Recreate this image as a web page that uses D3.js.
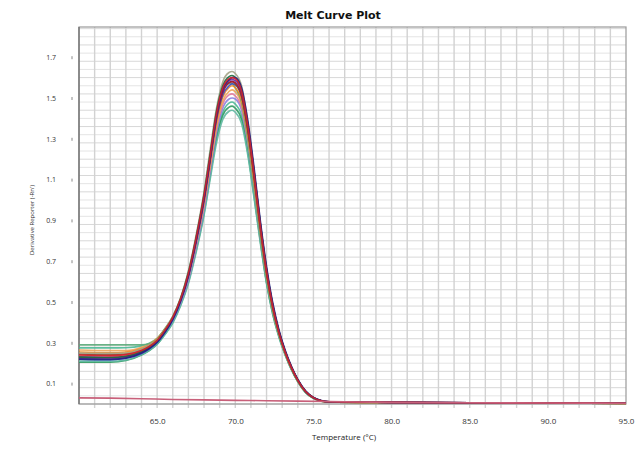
<!DOCTYPE html>
<html><head><meta charset="utf-8">
<script src="https://cdn.jsdelivr.net/npm/d3@7"></script>
<style>html,body{margin:0;padding:0;background:#fff;}svg{display:block;}</style>
</head><body>
<svg id="chart" width="637" height="449"></svg>
<script>
const title = "Melt Curve Plot";
const xTitle = "Temperature (°C)";
const yTitle = "Derivative Reporter (-Rn')";
const xTickValues = [65, 70, 75, 80, 85, 90, 95];
const yTickValues = [0.1, 0.3, 0.5, 0.7, 0.9, 1.1, 1.3, 1.5, 1.7];

const temps = [60,62,63,64,64.5,65,65.5,66,66.5,67,67.5,68,68.4,68.8,69.2,69.6,69.8,70.0,70.4,70.8,71.2,71.6,72.0,72.4,72.8,73.2,73.6,74.0,74.5,75,75.5,76,80,85,90,95];

const wellTeal = [.275,.275,.276,.285,.298,.322,.365,.42,.5,.61,.765,.95,1.135,1.315,1.43,1.475,1.48,1.47,1.415,1.255,1.04,.81,.60,.45,.335,.245,.17,.112,.058,.029,.014,.01,.007,.005,.004,.003];
const wellGreen = [.205,.205,.213,.24,.262,.293,.342,.4,.485,.598,.755,.935,1.12,1.3,1.415,1.455,1.46,1.45,1.395,1.235,1.02,.80,.595,.44,.33,.24,.168,.11,.057,.028,.014,.01,.007,.005,.004,.003];
const wellSeaGreen = [.21,.21,.216,.242,.263,.293,.34,.397,.48,.59,.745,.925,1.105,1.28,1.395,1.435,1.44,1.43,1.375,1.22,1.01,.79,.59,.44,.325,.238,.166,.109,.056,.028,.014,.01,.007,.005,.004,.003];
const wellLavender = [.232,.23,.236,.257,.276,.305,.352,.41,.495,.608,.77,.955,1.145,1.33,1.45,1.495,1.5,1.495,1.44,1.28,1.065,.82,.615,.455,.338,.246,.172,.113,.058,.029,.015,.01,.007,.005,.004,.003];
const wellPink = [.24,.237,.242,.262,.281,.31,.358,.416,.502,.617,.78,.97,1.16,1.35,1.47,1.515,1.52,1.51,1.455,1.29,1.07,.83,.62,.46,.34,.247,.173,.114,.059,.029,.015,.01,.007,.005,.004,.003];
const wellLightOrange = [.265,.262,.262,.278,.295,.322,.368,.425,.51,.625,.79,.98,1.17,1.36,1.485,1.532,1.54,1.53,1.47,1.305,1.08,.84,.625,.462,.34,.248,.173,.114,.059,.029,.015,.01,.007,.005,.004,.003];
const wellUpperGreen = [.29,.29,.29,.29,.295,.32,.37,.43,.52,.65,.82,1.03,1.23,1.42,1.53,1.57,1.57,1.55,1.48,1.3,1.07,.82,.61,.45,.335,.243,.17,.11,.056,.028,.014,.01,.007,.005,.004,.003];
const wellOrange = [.255,.252,.255,.272,.29,.318,.366,.425,.512,.63,.795,.99,1.185,1.38,1.505,1.552,1.56,1.55,1.49,1.32,1.09,.85,.632,.465,.342,.248,.174,.114,.059,.029,.015,.01,.007,.005,.004,.003];
const wellBlue = [.22,.217,.224,.248,.27,.302,.352,.414,.504,.625,.795,.995,1.195,1.395,1.515,1.56,1.57,1.565,1.51,1.35,1.125,.875,.655,.48,.352,.255,.18,.118,.062,.031,.016,.011,.008,.006,.005,.004];
const wellBrown = [.245,.242,.246,.266,.285,.314,.363,.423,.512,.634,.805,1.005,1.205,1.405,1.53,1.575,1.58,1.57,1.51,1.34,1.11,.86,.64,.47,.345,.25,.175,.115,.06,.03,.015,.01,.007,.005,.004,.003];
const wellOlive = [.25,.248,.25,.27,.29,.315,.365,.43,.52,.65,.83,1.04,1.25,1.45,1.58,1.625,1.63,1.62,1.56,1.38,1.14,.88,.655,.48,.35,.253,.177,.117,.061,.031,.016,.011,.008,.006,.005,.004];
const wellDarkRed = [.23,.228,.233,.256,.277,.308,.358,.42,.51,.633,.805,1.005,1.205,1.405,1.53,1.575,1.58,1.575,1.515,1.35,1.12,.87,.648,.475,.348,.252,.177,.116,.061,.031,.016,.011,.008,.006,.005,.004];
const wellPurple = [.225,.222,.228,.252,.274,.305,.355,.418,.508,.632,.805,1.01,1.21,1.415,1.54,1.585,1.59,1.585,1.53,1.37,1.14,.885,.66,.485,.355,.257,.18,.118,.062,.031,.016,.011,.008,.006,.005,.004];
const wellDarkGreen = [.23,.228,.234,.257,.278,.31,.36,.424,.515,.642,.818,1.025,1.23,1.435,1.56,1.605,1.61,1.6,1.54,1.37,1.14,.885,.66,.484,.354,.256,.18,.118,.062,.031,.016,.011,.008,.006,.005,.004];
const wellNavy = [.22,.218,.225,.25,.272,.303,.352,.415,.505,.63,.805,1.01,1.21,1.415,1.545,1.59,1.6,1.6,1.55,1.39,1.16,.90,.675,.495,.362,.262,.184,.121,.064,.032,.017,.011,.008,.006,.005,.004];
const wellRed = [.24,.237,.242,.262,.282,.312,.362,.425,.515,.64,.815,1.02,1.22,1.425,1.55,1.595,1.6,1.595,1.535,1.365,1.13,.875,.652,.478,.35,.253,.178,.117,.061,.031,.016,.011,.008,.006,.005,.004];

const ntcTemps = [60,62,64,66,68,70,72,74,76,78,80,85,90,95];
const ntcValues = [.03,.029,.026,.022,.02,.018,.016,.014,.012,.01,.008,.006,.005,.004];

const series = [
  {v: wellTeal, c: "#4cb896"},
  {v: wellGreen, c: "#2f9a62"},
  {v: wellSeaGreen, c: "#5fb8a2"},
  {v: wellLavender, c: "#8c7ee0"},
  {v: wellPink, c: "#e2789a"},
  {v: wellLightOrange, c: "#eda45a"},
  {v: wellUpperGreen, c: "#5aa878"},
  {v: wellOrange, c: "#f08a22"},
  {v: wellBlue, c: "#3a48c8"},
  {v: wellBrown, c: "#8a4a22"},
  {v: wellOlive, c: "#a4a488"},
  {v: wellDarkRed, c: "#a31a36"},
  {v: wellPurple, c: "#6b2ca2"},
  {v: wellDarkGreen, c: "#1c6e40"},
  {v: wellNavy, c: "#22227e"},
  {v: wellRed, c: "#d4202c"}
];

const svg = d3.select("#chart");
const L = 79, R = 626, T = 27, B = 404;
const x = d3.scaleLinear().domain([60, 95]).range([L, R]);
const y = d3.scaleLinear().domain([0, 1.848]).range([B, T]);

// grid
const grid = svg.append("g");
grid.selectAll("line.h").data(d3.range(0, 1.85, 0.04)).join("line")
  .attr("x1", L).attr("x2", R).attr("y1", d => y(d)).attr("y2", d => y(d))
  .attr("stroke", (d, i) => i % 2 ? "#e4e4e4" : "#d8d8d8").attr("stroke-width", 1);
grid.selectAll("line.v").data(d3.range(61, 95, 1)).join("line")
  .attr("x1", d => x(d)).attr("x2", d => x(d)).attr("y1", T).attr("y2", B + 4)
  .attr("stroke", "#d2d2d2").attr("stroke-width", 1.4);

// frame
svg.append("rect").attr("x", L).attr("y", T).attr("width", R - L).attr("height", B - T)
  .attr("fill", "none").attr("stroke", "#9a9a9a").attr("stroke-width", 1.2);
svg.append("line").attr("x1", L).attr("x2", L).attr("y1", T).attr("y2", B)
  .attr("stroke", "#6e6e6e").attr("stroke-width", 1.3);

// curves
const line = d3.line().x((d, i) => x(temps[i])).y(d => y(d)).curve(d3.curveMonotoneX);
const cg = svg.append("g");
series.forEach(s => {
  cg.append("path").attr("d", line(s.v)).attr("fill", "none")
    .attr("stroke", s.c).attr("stroke-width", 1.6).attr("stroke-opacity", 0.9);
});
const ntcLine = d3.line().x((d, i) => x(ntcTemps[i])).y(d => y(d)).curve(d3.curveMonotoneX);
cg.append("path").attr("d", ntcLine(ntcValues)).attr("fill", "none")
  .attr("stroke", "#c8607a").attr("stroke-width", 1.6);

// axes
const xAxis = d3.axisBottom(x).tickValues(xTickValues).tickFormat(d3.format(".1f")).tickSize(0).tickPadding(14);
const gx = svg.append("g").attr("transform", `translate(0,${B})`).call(xAxis);
gx.select(".domain").remove();
gx.selectAll("text").attr("font-family", "Open Sans, Liberation Sans, sans-serif").attr("font-size", 8).attr("fill", "#333");

const yAxis = d3.axisLeft(y).tickValues(yTickValues).tickFormat(d3.format(".1f")).tickSize(2).tickPadding(14);
const gy = svg.append("g").attr("transform", `translate(${L - 7},0)`).call(yAxis);
gy.select(".domain").remove();
gy.selectAll("line").attr("stroke", "#888").attr("x1", 0).attr("x2", 0).attr("y1", -1.5).attr("y2", 1.5);
gy.selectAll("text").attr("font-family", "Open Sans, Liberation Sans, sans-serif").attr("font-size", 7).attr("fill", "#333");

// titles
svg.append("text").attr("x", 333).attr("y", 19).attr("text-anchor", "middle")
  .attr("font-family", "DejaVu Sans, Verdana, sans-serif").attr("font-weight", "bold")
  .attr("font-size", 11).attr("fill", "#111").text(title);
svg.append("text").attr("x", 344).attr("y", 440).attr("text-anchor", "middle")
  .attr("font-family", "Open Sans, Liberation Sans, sans-serif").attr("font-size", 8).attr("fill", "#222").text(xTitle);
svg.append("text").attr("transform", "translate(34,220) rotate(-90)").attr("text-anchor", "middle")
  .attr("font-family", "Open Sans, Liberation Sans, sans-serif").attr("font-size", 6).attr("fill", "#333").text(yTitle);
</script>
</body></html>
